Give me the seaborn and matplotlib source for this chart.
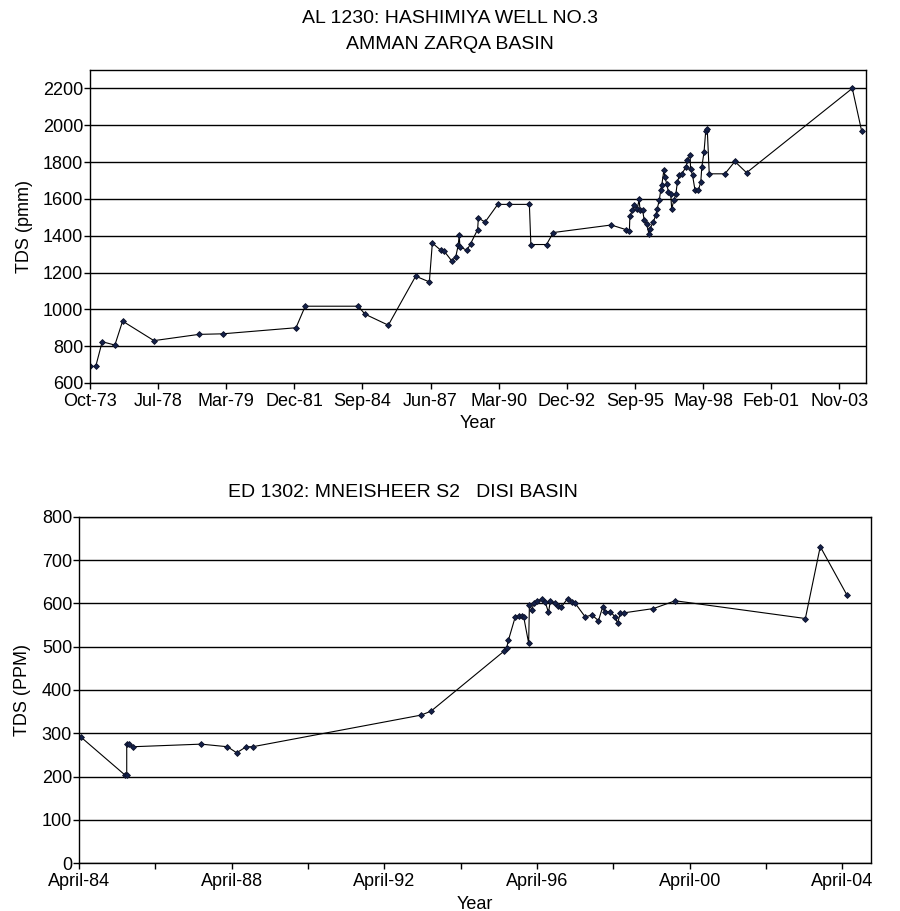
import matplotlib
matplotlib.use("Agg")
import matplotlib.pyplot as plt
import pandas as pd
import seaborn as sns

# AL 1230: Hashimiya Well No.3 (Amman Zarqa basin) - decimal year vs TDS
al_year = [1973.75, 1973.98, 1974.24, 1974.75, 1975.06, 1976.32, 1978.13, 1979.08,
           1982.03, 1982.40, 1984.53, 1984.80, 1985.74, 1986.84, 1987.39, 1987.51,
           1987.85, 1987.98, 1988.29, 1988.45, 1988.55, 1988.59, 1988.62, 1988.90,
           1989.05, 1989.33, 1989.36, 1989.63, 1990.14, 1990.60, 1991.41, 1991.47,
           1992.10, 1992.37, 1994.70, 1995.29, 1995.43, 1995.45, 1995.55, 1995.63,
           1995.75, 1995.82, 1995.86, 1995.96, 1996.03, 1996.12, 1996.22, 1996.26,
           1996.39, 1996.49, 1996.55, 1996.63, 1996.69, 1996.73, 1996.82, 1996.86,
           1996.93, 1997.00, 1997.09, 1997.13, 1997.22, 1997.30, 1997.36, 1997.44,
           1997.53, 1997.71, 1997.76, 1997.87, 1997.89, 1997.97, 1998.07, 1998.20,
           1998.30, 1998.34, 1998.43, 1998.50, 1998.56, 1998.64, 1999.27, 1999.67,
           2000.14, 2004.39, 2004.77]
al_tds = [690, 690, 824, 806, 936, 830, 864, 867,
          900, 1017, 1017, 974, 914, 1180, 1149, 1360,
          1321, 1317, 1263, 1285, 1348, 1402, 1339, 1321,
          1357, 1433, 1496, 1474, 1570, 1570, 1570, 1352,
          1352, 1417, 1458, 1433, 1425, 1505, 1538, 1565,
          1547, 1597, 1538, 1538, 1483, 1466, 1408, 1438,
          1474, 1511, 1547, 1592, 1646, 1673, 1758, 1718,
          1682, 1637, 1628, 1547, 1592, 1628, 1691, 1727,
          1736, 1772, 1809, 1836, 1763, 1727, 1646, 1646,
          1691, 1772, 1854, 1971, 1980, 1736, 1736, 1803,
          1742, 2200, 1966]
al_tick_labels = ["Oct-73", "Jul-78", "Mar-79", "Dec-81", "Sep-84", "Jun-87",
                  "Mar-90", "Dec-92", "Sep-95", "May-98", "Feb-01", "Nov-03"]
al_yticks = [600, 800, 1000, 1200, 1400, 1600, 1800, 2000, 2200]

# ED 1302: Mneisheer S2 (Disi basin) - decimal year vs TDS
ed_year = [1984.29, 1985.45, 1985.50, 1985.50, 1985.55, 1985.66, 1987.45, 1988.14,
           1988.38, 1988.63, 1988.80, 1993.21, 1993.47, 1995.39, 1995.45, 1995.50,
           1995.68, 1995.77, 1995.85, 1995.90, 1996.03, 1996.05, 1996.12, 1996.16,
           1996.25, 1996.38, 1996.46, 1996.55, 1996.60, 1996.73, 1996.79, 1996.88,
           1997.05, 1997.16, 1997.25, 1997.51, 1997.69, 1997.86, 1997.97, 1998.04,
           1998.17, 1998.30, 1998.36, 1998.43, 1998.52, 1999.30, 1999.87, 2003.28,
           2003.67, 2004.37]
ed_tds = [292, 204, 204, 275, 275, 269, 275, 269, 255, 269,
          269, 342, 351, 490, 496, 515, 569, 571, 571, 569,
          508, 596, 585, 600, 606, 609, 604, 579, 606, 600,
          594, 591, 611, 604, 600, 569, 573, 560, 592, 581,
          581, 568, 554, 577, 578, 588, 606, 565, 731, 619]
ed_tick_labels = ["April-84", "", "April-88", "", "April-92", "",
                  "April-96", "", "April-00", "", "April-04"]
ed_yticks = [0, 100, 200, 300, 400, 500, 600, 700, 800]

sns.set_theme(style="white")
plt.rcParams["font.family"] = ["Liberation Sans", "DejaVu Sans"]
for key in ("text.color", "axes.labelcolor", "xtick.color", "ytick.color"):
    plt.rcParams[key] = "black"

FS = 13

fig = plt.figure(figsize=(9, 9.11), dpi=100)
ax1 = fig.add_axes([0.100, 0.5796, 0.8622, 0.3436])
ax2 = fig.add_axes([0.0878, 0.0524, 0.8800, 0.3804])

line_kw = dict(color="black", linewidth=0.8, marker="D", markersize=3.0,
               markerfacecolor="#14214a", markeredgecolor="#0b1028",
               markeredgewidth=0.6, sort=False, estimator=None)

df1 = pd.DataFrame({"year": al_year, "tds": al_tds})
df2 = pd.DataFrame({"year": ed_year, "tds": ed_tds})
sns.lineplot(data=df1, x="year", y="tds", ax=ax1, **line_kw)
sns.lineplot(data=df2, x="year", y="tds", ax=ax2, **line_kw)

# top panel: ticks every ~1000 days starting Oct-73
step = 1000 / 365.25
ax1.set_xticks([1973.75 + k * step for k in range(len(al_tick_labels))])
ax1.set_xticklabels(al_tick_labels, fontsize=FS)
ax1.set_xlim(1973.75, 2004.94)
ax1.set_ylim(600, 2300)
ax1.set_yticks(al_yticks)
ax1.set_yticklabels([str(v) for v in al_yticks], fontsize=FS)
ax1.set_xlabel("Year", fontsize=FS, labelpad=4)
ax1.set_ylabel("TDS (pmm)", fontsize=FS, labelpad=7)

# bottom panel: two-year ticks, labels every four years
ax2.set_xticks([1984.25 + 2 * k for k in range(len(ed_tick_labels))])
ax2.set_xticklabels(ed_tick_labels, fontsize=FS)
ax2.set_xlim(1984.25, 2005.0)
ax2.set_ylim(0, 800)
ax2.set_yticks(ed_yticks)
ax2.set_yticklabels([str(v) for v in ed_yticks], fontsize=FS)
ax2.set_xlabel("Year", fontsize=FS, labelpad=4)
ax2.set_ylabel("TDS (PPM)", fontsize=FS, labelpad=8)

for ax in (ax1, ax2):
    ax.yaxis.grid(True, color="black", linewidth=1.0)
    ax.xaxis.grid(False)
    ax.set_axisbelow(True)
    for s in ax.spines.values():
        s.set_visible(True)
        s.set_color("black")
        s.set_linewidth(1.0)
    ax.tick_params(axis="both", which="major", direction="out", length=4,
                   width=1, color="black", pad=1, bottom=True, left=True)
    ax.tick_params(axis="x", pad=3)
    ax.set_facecolor("white")

fig.text(0.5, 0.980, "AL 1230: HASHIMIYA WELL NO.3", ha="center", va="center",
         fontsize=14)
fig.text(0.5, 0.951, "AMMAN ZARQA BASIN", ha="center", va="center",
         fontsize=14)
fig.text(0.448, 0.459, "ED 1302: MNEISHEER S2   DISI BASIN", ha="center",
         va="center", fontsize=14)

fig.savefig("out.png", dpi=100, facecolor="white")
